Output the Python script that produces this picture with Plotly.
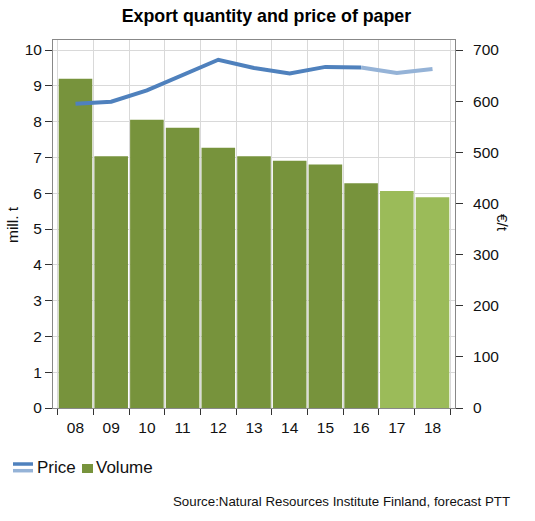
import plotly.graph_objects as go

years = ["08", "09", "10", "11", "12", "13", "14", "15", "16", "17", "18"]
volume = [9.2, 7.03, 8.05, 7.83, 7.27, 7.03, 6.91, 6.8, 6.28, 6.06, 5.89]
price = [595, 599, 621, 652, 681, 665, 654, 667, 666, 655, 663]
n_actual = 9  # 08..16 actual, 17..18 forecast

dark_green = "#77933C"
light_green = "#9BBB59"
dark_blue = "#4F81BD"
light_blue = "#95B3D7"

fig = go.Figure()
fig.add_trace(go.Bar(x=years[:n_actual], y=volume[:n_actual], name="Volume",
                     marker=dict(color=dark_green, line=dict(width=0)), yaxis="y"))
fig.add_trace(go.Bar(x=years[n_actual:], y=volume[n_actual:], name="Volume forecast",
                     marker=dict(color=light_green, line=dict(width=0)), yaxis="y"))
fig.add_trace(go.Scatter(x=years[:n_actual], y=price[:n_actual], name="Price",
                         mode="lines", line=dict(color=dark_blue, width=4), yaxis="y2"))
fig.add_trace(go.Scatter(x=years[n_actual - 1:], y=price[n_actual - 1:], name="Price forecast",
                         mode="lines", line=dict(color=light_blue, width=4), yaxis="y2"))

font = "Liberation Sans, Arial, sans-serif"

# legend drawn as key shapes + text (paper coordinates)
legend_shapes = [
    dict(type="line", xref="paper", yref="paper", x0=-0.0995, x1=-0.0498,
         y0=-0.1522, y1=-0.1522, line=dict(color=dark_blue, width=3.5)),
    dict(type="line", xref="paper", yref="paper", x0=-0.0995, x1=-0.0498,
         y0=-0.1704, y1=-0.1704, line=dict(color=light_blue, width=3.5)),
    dict(type="rect", xref="paper", yref="paper", x0=0.0721, x1=0.0995,
         y0=-0.1766, y1=-0.1522, line=dict(width=0), fillcolor=dark_green),
]

fig.update_layout(
    width=535, height=521,
    margin=dict(l=53, r=80, t=40, b=113, autoexpand=False),
    paper_bgcolor="white", plot_bgcolor="white",
    font=dict(family=font, size=15.5, color="#111"),
    title=dict(text="<b>Export quantity and price of paper</b>", x=0.498, xanchor="center",
               y=0.9693, yanchor="middle", font=dict(size=17.8, color="#000")),
    barmode="overlay", bargap=0.06,
    showlegend=False,
    shapes=legend_shapes,
    xaxis=dict(type="category", categoryorder="array", categoryarray=years,
               range=[-0.63, 10.63], tickson="boundaries", showgrid=True,
               gridcolor="#D9D9D9", gridwidth=1, ticks="outside", ticklen=6,
               tickcolor="#333", showline=True, linecolor="#888", mirror=True,
               tickfont=dict(size=15.5), ticklabelstandoff=5, automargin=False),
    yaxis=dict(range=[0, 10.28], dtick=1, showgrid=True, gridcolor="#D9D9D9",
               ticks="outside", ticklen=7, tickcolor="#333", showline=True,
               linecolor="#888", mirror=True, zeroline=False,
               tickfont=dict(size=15.5), automargin=False),
    yaxis2=dict(range=[0, 719.6], dtick=100, overlaying="y", side="right",
                showgrid=False, ticks="outside", ticklen=7, tickcolor="#333",
                zeroline=False, showline=False, tickfont=dict(size=15.5),
                ticklabelstandoff=7, automargin=False),
    annotations=[
        dict(text="mill. t", xref="paper", yref="paper", x=-0.102, y=0.5, textangle=-90,
             showarrow=False, font=dict(size=15.5), xanchor="center", yanchor="middle"),
        dict(text="€/t", xref="paper", yref="paper", x=1.117, y=0.503, textangle=90,
             showarrow=False, font=dict(size=15.5), xanchor="center", yanchor="middle"),
        dict(text="Price", xref="paper", yref="paper", x=-0.0448, y=-0.163,
             xanchor="left", yanchor="middle", showarrow=False, font=dict(size=17)),
        dict(text="Volume", xref="paper", yref="paper", x=0.102, y=-0.163,
             xanchor="left", yanchor="middle", showarrow=False, font=dict(size=17)),
        dict(text="Source:Natural Resources Institute Finland, forecast PTT",
             xref="paper", yref="paper", x=1.142, y=-0.2554, xanchor="right",
             yanchor="middle", showarrow=False, font=dict(size=13.3)),
    ],
)

fig.write_html("out.html", config={"displayModeBar": False},
               post_script="document.body.style.margin='0px';")
